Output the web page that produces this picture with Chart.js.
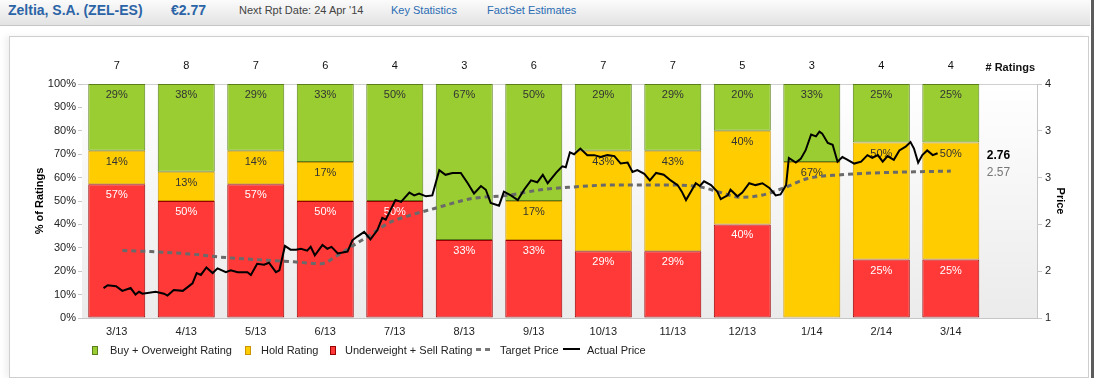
<!DOCTYPE html>
<html>
<head>
<meta charset="utf-8">
<script src="https://cdn.jsdelivr.net/npm/chart.js@4.4.1/dist/chart.umd.min.js"></script>
<style>
body{margin:0;width:1094px;height:378px;background:#fff;font-family:Arial,"Liberation Sans",sans-serif;overflow:hidden;position:relative}
#hdr{position:absolute;left:0;top:0;width:1090px;height:25px;background:linear-gradient(#fbfbfb,#e3e3e3);border-bottom:1px solid #c6c6c6}
#hdr span{position:absolute;top:0;line-height:21px;white-space:nowrap}
.big{font-size:14px;font-weight:bold;color:#2b64a6}
.sm{font-size:11px}
#panel{position:absolute;left:9px;top:36px;width:1080px;height:342px;box-sizing:border-box;border:1px solid #cfcfcf;background:#fff;box-shadow:-4px 0 6px rgba(0,0,0,0.06)}
#chart{position:absolute;left:10px;top:37px}
#edge{position:absolute;left:1091px;top:0;width:3px;height:378px;background:#5c5c5c}
.lg{position:absolute;top:343px;font-size:11px;line-height:14px;color:#222;white-space:nowrap}
.mk{position:absolute;top:346px;width:4px;height:7px;border:1px solid}
</style>
</head>
<body>
<div id="hdr">
  <span class="big" style="left:8px">Zeltia, S.A. (ZEL-ES)</span>
  <span class="big" style="left:171px">€2.77</span>
  <span class="sm" style="left:239px;color:#444">Next Rpt Date: 24 Apr '14</span>
  <span class="sm" style="left:391px;color:#2a6cb3">Key Statistics</span>
  <span class="sm" style="left:487px;color:#2a6cb3">FactSet Estimates</span>
</div>
<div id="panel"></div>
<canvas id="chart" width="1077" height="339"></canvas>
<div id="edge"></div>

<div class="mk" style="left:92px;background:#9acd32;border-color:#5a7f1a"></div>
<div class="lg" style="left:110px">Buy + Overweight Rating</div>
<div class="mk" style="left:245px;background:#ffcc00;border-color:#c99400"></div>
<div class="lg" style="left:261px">Hold Rating</div>
<div class="mk" style="left:330px;background:#ff3838;border-color:#990000"></div>
<div class="lg" style="left:345px">Underweight + Sell Rating</div>
<div style="position:absolute;left:476px;top:348px;width:5px;height:3px;background:#777"></div>
<div style="position:absolute;left:485px;top:348px;width:5px;height:3px;background:#777"></div>
<div class="lg" style="left:500px">Target Price</div>
<div style="position:absolute;left:563px;top:348px;width:17px;height:2px;background:#000"></div>
<div class="lg" style="left:587px">Actual Price</div>

<script>
// months and rating counts
const months = ['3/13','4/13','5/13','6/13','7/13','8/13','9/13','10/13','11/13','12/13','1/14','2/14','3/14'];
const buyCount  = [2,3,2,2,2,2,3,2,2,1,1,1,1];
const holdCount = [1,1,1,1,0,0,1,3,3,2,2,2,2];
const sellCount = [4,4,4,3,2,1,2,2,2,2,0,1,1];

// price lines (x = month position, y = price)
const actualAt = [-0.19,-0.13,-0.01,0.08,0.20,0.27,0.32,0.37,0.56,0.68,0.73,0.82,0.95,1.02,1.09,1.15,1.21,1.29,1.38,1.45,
  1.57,1.64,1.74,1.88,1.93,2.02,2.12,2.19,2.29,2.34,2.42,2.50,2.58,2.65,2.74,2.79,2.85,2.96,3.03,3.09,
  3.18,3.32,3.39,3.46,3.56,3.65,3.75,3.82,3.87,4.01,4.09,4.21,4.28,4.35,4.45,4.54,4.64,4.73,4.83,4.95,
  5.05,5.14,5.24,5.31,5.38,5.50,5.57,5.67,5.77,5.86,5.96,6.05,6.13,6.20,6.32,6.41,6.46,6.52,6.58,6.67,
  6.77,6.87,6.96,7.06,7.16,7.25,7.35,7.42,7.49,7.59,7.67,7.76,7.87,7.97,8.07,8.13,8.19,8.26,8.33,8.39,
  8.45,8.55,8.64,8.69,8.79,8.83,8.93,9.00,9.10,9.19,9.29,9.39,9.48,9.55,9.63,9.67,9.77,9.84,9.91,9.99,
  10.06,10.11,10.15,10.23,10.30,10.37,10.44,10.49,10.61,10.71,10.80,10.87,10.95,11.02,11.09,11.18,11.26,11.35,11.42,11.47,
  11.53,11.59,11.66,11.74,11.81];
const actualPrice = [1.32,1.35,1.34,1.29,1.32,1.25,1.28,1.26,1.28,1.26,1.24,1.30,1.29,1.33,1.37,1.48,1.46,1.54,1.48,1.53,
  1.49,1.51,1.49,1.49,1.46,1.58,1.57,1.59,1.49,1.51,1.77,1.73,1.73,1.74,1.72,1.76,1.67,1.78,1.74,1.76,
  1.69,1.71,1.83,1.87,1.92,1.84,1.94,2.07,2.05,2.26,2.24,2.34,2.31,2.33,2.30,2.31,2.58,2.53,2.55,2.55,
  2.44,2.33,2.41,2.37,2.23,2.20,2.35,2.31,2.26,2.37,2.47,2.45,2.53,2.44,2.55,2.62,2.61,2.77,2.75,2.81,
  2.74,2.74,2.72,2.74,2.73,2.65,2.66,2.56,2.58,2.54,2.47,2.55,2.53,2.47,2.42,2.35,2.26,2.35,2.44,2.41,
  2.46,2.42,2.35,2.27,2.31,2.37,2.30,2.34,2.44,2.42,2.44,2.39,2.31,2.32,2.42,2.71,2.66,2.70,2.79,2.96,
  2.94,2.99,2.97,2.87,2.85,2.67,2.72,2.70,2.65,2.67,2.74,2.71,2.74,2.67,2.73,2.69,2.79,2.83,2.88,2.81,
  2.66,2.74,2.79,2.74,2.76];
const targetAt = [0.08,0.49,1.11,1.50,2.55,2.94,3.18,3.37,3.61,3.90,4.23,4.57,4.95,5.14,5.62,6.10,6.58,7.06,7.54,8.02,
  8.40,8.69,8.98,9.27,9.60,9.94,10.42,10.90,11.38,12.00];
const targetPrice = [1.72,1.71,1.68,1.65,1.60,1.58,1.67,1.76,1.87,2.01,2.10,2.17,2.25,2.28,2.31,2.37,2.40,2.42,2.42,2.42,
  2.40,2.34,2.29,2.31,2.39,2.49,2.53,2.55,2.56,2.57];
const lastActual = 2.76;
const lastTarget = 2.57;

const totals = months.map((m, i) => buyCount[i] + holdCount[i] + sellCount[i]);
const pct = arr => arr.map((v, i) => ({x: i, y: v ? v / totals[i] * 100 : null}));
const pts = (xs, ys) => xs.map((x, i) => ({x: x, y: ys[i]}));

const FONT = 'Arial, "Liberation Sans", sans-serif';

// plot background gradient
const plotBg = {
    id: 'plotBg',
    beforeDraw(chart) {
        const {ctx, chartArea: a} = chart;
        const g = ctx.createLinearGradient(0, a.top, 0, a.bottom);
        g.addColorStop(0, '#ffffff');
        g.addColorStop(1, '#ebebeb');
        ctx.save();
        ctx.fillStyle = g;
        ctx.fillRect(a.left, a.top, a.right - a.left, a.bottom - a.top);
        ctx.restore();
    }
};

// % labels inside bars
const barText = {
    id: 'barText',
    afterDatasetDraw(chart, args) {
        const ds = chart.data.datasets[args.index];
        if (ds.type !== 'bar') return;
        const ctx = chart.ctx;
        ctx.save();
        ctx.font = '11px ' + FONT;
        ctx.textAlign = 'center';
        ctx.textBaseline = 'middle';
        ctx.fillStyle = ds.labelColor;
        args.meta.data.forEach((el, i) => {
            const v = ds.data[i].y;
            if (!v) return;
            ctx.fillText(Math.round(v) + '%', el.x, el.y + 11);
        });
        ctx.restore();
    }
};

// counts row + last prices
const extras = {
    id: 'extras',
    afterDraw(chart) {
        const ctx = chart.ctx;
        const xs = chart.scales.x, yp = chart.scales.yP, a = chart.chartArea;
        ctx.save();
        ctx.textBaseline = 'middle';
        ctx.textAlign = 'center';
        ctx.font = '11px ' + FONT;
        ctx.fillStyle = '#111';
        totals.forEach((t, i) => ctx.fillText(String(t), xs.getPixelForValue(i), 29));
        ctx.textAlign = 'right';
        ctx.font = 'bold 11px ' + FONT;
        ctx.fillText('# Ratings', a.right - 2, 31);
        ctx.textAlign = 'left';
        const lx = xs.getPixelForValue(months.length - 1) + 36;
        ctx.font = 'bold 12px ' + FONT;
        ctx.fillStyle = '#000';
        ctx.fillText(lastActual.toFixed(2), lx, yp.getPixelForValue(lastActual) + 2);
        ctx.font = '12px ' + FONT;
        ctx.fillStyle = '#777';
        ctx.fillText(lastTarget.toFixed(2), lx, yp.getPixelForValue(lastTarget) + 2);
        ctx.restore();
    }
};

const tickFont = {family: FONT, size: 11};

new Chart(document.getElementById('chart'), {
    type: 'bar',
    data: {
        datasets: [
            {type: 'line', label: 'Actual Price', data: pts(actualAt, actualPrice), yAxisID: 'yP',
             borderColor: '#000', borderWidth: 2, pointRadius: 0, tension: 0, order: 0},
            {type: 'line', label: 'Target Price', data: pts(targetAt, targetPrice), yAxisID: 'yP',
             borderColor: '#6a6a6a', borderWidth: 3, borderDash: [5, 4], pointRadius: 0,
             cubicInterpolationMode: 'monotone', order: 1},
            {type: 'bar', label: 'Underweight + Sell Rating', data: pct(sellCount), labelColor: '#fff',
             backgroundColor: '#ff3838', borderColor: '#990000', borderWidth: 1, borderSkipped: false, order: 2},
            {type: 'bar', label: 'Hold Rating', data: pct(holdCount), labelColor: '#333',
             backgroundColor: '#ffcc00', borderColor: '#cc9900', borderWidth: 1, borderSkipped: false, order: 3},
            {type: 'bar', label: 'Buy + Overweight Rating', data: pct(buyCount), labelColor: '#333',
             backgroundColor: '#9acd32', borderColor: '#5a7f1a', borderWidth: 1, borderSkipped: false, order: 4}
        ]
    },
    options: {
        responsive: false,
        animation: false,
        barPercentage: 0.82,
        categoryPercentage: 1,
        layout: {padding: {top: 47, bottom: 38, left: 0, right: 0}},
        plugins: {legend: {display: false}, tooltip: {enabled: false}},
        scales: {
            x: {
                type: 'linear', min: -0.5, max: 13.24, offset: false, stacked: true,
                grid: {display: false, drawTicks: false},
                border: {display: true, color: '#c6c6c6'},
                afterBuildTicks: s => { s.ticks = months.map((m, i) => ({value: i})); },
                ticks: {callback: v => months[v], font: tickFont, color: '#222', padding: 7,
                        maxRotation: 0, autoSkip: false},
                afterFit: s => { s.height = 20; }
            },
            y: {
                position: 'left', stacked: true, min: 0, max: 100,
                ticks: {stepSize: 10, callback: v => v + '%', font: tickFont, color: '#222', padding: 2},
                grid: {color: c => c.tick && c.tick.value === 100 ? '#d0d0d0' : 'rgba(0,0,0,0)',
                       tickColor: '#c6c6c6', tickLength: 4},
                border: {display: false},
                title: {display: true, text: '% of Ratings', color: '#000',
                        font: {family: FONT, size: 11, weight: 'bold'}, padding: {top: 23, bottom: 0}},
                afterFit: s => { s.width = 72; }
            },
            yP: {
                position: 'right', min: 1, max: 3.5,
                ticks: {stepSize: 0.5, callback: v => String(Math.round(v)), font: tickFont, color: '#222', padding: 3},
                grid: {drawOnChartArea: false, tickColor: '#c6c6c6', tickLength: 5},
                border: {display: true, color: '#c6c6c6'},
                title: {display: true, text: 'Price', color: '#000',
                        font: {family: FONT, size: 11, weight: 'bold'}, padding: {top: 20, bottom: 0}},
                afterFit: s => { s.width = 50; }
            }
        }
    },
    plugins: [plotBg, barText, extras]
});
</script>
</body>
</html>
